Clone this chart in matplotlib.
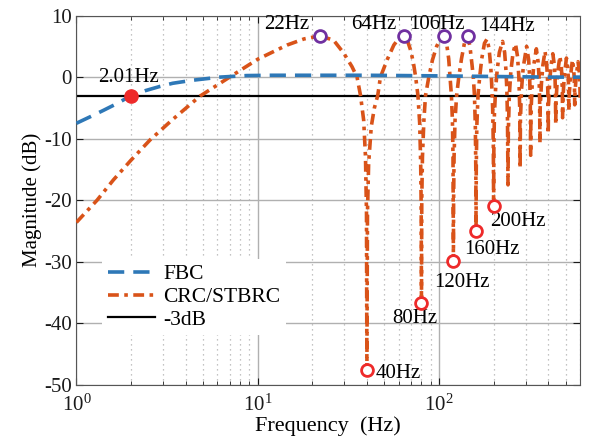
import matplotlib
matplotlib.use('Agg')
from matplotlib import pyplot as plt, ticker

plt.rcParams['font.family'] = ['Liberation Serif', 'DejaVu Serif']
plt.rcParams['mathtext.fontset'] = 'custom'
plt.rcParams['mathtext.rm'] = 'Liberation Serif'
plt.rcParams['axes.unicode_minus'] = False

BLUE = '#2e78b7'
ORANGE = '#d95319'
PURPLE = '#7030a0'
RED = '#ee2a2a'

# FBC response
fbc_f = [1.0, 1.2, 1.41, 1.7, 2.0, 2.4, 2.9, 3.4, 4.4, 6.2, 8.7, 12, 20, 40, 100, 200, 400, 600]
fbc_db = [-7.5, -6.4, -5.4, -4.2, -3.0, -2.2, -1.5, -1.0, -0.5, 0.0, 0.25, 0.3, 0.3, 0.3, 0.2, 0.1, 0.0, 0.0]

# CRC/STBRC response, lobe by lobe
crc_f = [
    1.0, 1.3, 1.6, 2.0, 2.55, 3.36, 4.8, 7.0, 10, 14.5, 18, 22, 26.2, 29.8, 33.1, 35.3, 36.9, 38.4, 39.3, 39.8, 40,
    40.3, 40.9, 42.3, 44, 45.9, 47.5, 51.7, 56.3, 60, 64, 67.5, 70, 72.5, 74.3, 76.5, 78.2, 79.2, 79.7, 80,
    80.3, 81, 82.5, 84.2, 87.8, 92, 97, 102, 106, 110, 113, 115, 117, 118.5, 119.4, 120,
    120.3, 121, 122.5, 125, 128.5, 133, 138, 144, 148, 152, 154.5, 156.8, 158.5, 159.5, 160,
    160.4, 161.5, 164, 167.5, 172, 178, 184, 189, 193, 195, 197.5, 199.2, 200,
    200.5, 202, 205, 209, 215, 224, 230, 234, 236.5, 238.5, 240,
    241, 244, 249, 256, 264, 271, 275.5, 278.5, 280,
    281, 285, 291, 304, 312, 316, 318.5, 320,
    321, 326, 333, 344, 352, 356, 358.5, 360,
    361.2, 367, 374, 384, 392, 396, 398.5, 400,
    401.3, 408, 415, 424, 432, 436, 438.5, 440,
    441.5, 449, 456, 464, 472, 476, 478.5, 480,
    482, 490, 504, 512, 516, 518.5, 520,
    522, 530, 544, 552, 556, 558.5, 560,
    562, 570, 584, 592, 596, 598.5, 600,
]
crc_db = [
    -23.6, -20.0, -16.7, -13.5, -10.2, -7.0, -3.1, 0.0, 2.9, 5.2, 6.2, 6.7, 6.0, 3.9, 1.7, 0.0, -3.0, -7.0, -13, -22, -47.6,
    -22, -14, -8, -5, -3, 0.0, 2.8, 5.2, 6.3, 6.6, 5.6, 4.2, 2.0, 0.0, -3, -7.5, -14, -21, -36.7,
    -20, -13, -7, -3, 0.0, 2.8, 5.0, 6.3, 6.7, 5.5, 3.0, 0.0, -3, -7, -13, -29.9,
    -20, -13, -7, -3, 0.0, 3.0, 5.5, 6.6, 5.0, 2.0, 0.0, -3, -8, -15, -25,
    -15, -8, -3, 0.0, 3.0, 5.5, 6.2, 4.5, 1.5, -1, -5, -11, -21,
    -12, -6, -2, 1.0, 4.0, 5.8, 4.0, 1.0, -2, -7, -17.5,
    -9, -3, 1.0, 4.0, 5.4, 3.3, 0.0, -5, -14.8,
    -7, -2, 1.5, 5.0, 2.8, 0.0, -4, -12.7,
    -6, -1.5, 2.0, 4.6, 2.4, 0.0, -3.5, -10.7,
    -5, -1, 2.0, 4.2, 2.2, 0.0, -3, -9.2,
    -4.5, -0.5, 2.0, 3.8, 2.0, 0.0, -2.8, -7.7,
    -4, -0.3, 1.8, 3.4, 1.8, 0.0, -2.5, -6.6,
    -3.5, 0.0, 3.1, 1.6, 0.0, -2.2, -5.5,
    -3, 0.0, 2.8, 1.4, 0.0, -2, -4.5,
    -2.5, 0.0, 2.5, 1.2, 0.0, -1.8, -3.8,
]

peak_f = [22, 64, 106, 144]
peak_db = [6.7, 6.6, 6.7, 6.6]
peak_txt = ['22Hz', '64Hz', '106Hz', '144Hz']
peak_txt_f = [14.5, 43.6, 97.7, 238]
peak_txt_db = [8.5, 8.5, 8.5, 8.2]

notch_f = [40, 80, 120, 160, 200]
notch_db = [-47.6, -36.7, -29.9, -25.0, -21.0]
notch_txt = ['40Hz', '80Hz', '120Hz', '160Hz', '200Hz']
notch_txt_f = [59.3, 73.2, 134.4, 196.8, 273]
notch_txt_db = [-48.1, -39.2, -33.3, -28.0, -23.5]

cut_f = 2.01
cut_db = -3.0

fig = plt.figure(figsize=(5.92, 4.44), dpi=100)
ax = fig.add_axes([0.129, 0.133, 0.851, 0.832])

l3, = ax.plot([1, 600], [-3, -3], color='black', lw=1.6, label='-3dB', zorder=2)
l2, = ax.plot(crc_f, crc_db, color=ORANGE, lw=2.6, linestyle=(0, (3, 1.5, 1, 1.5)),
              label='CRC/STBRC', zorder=3)
l1, = ax.plot(fbc_f, fbc_db, color=BLUE, lw=2.6, linestyle=(0, (4.5, 2.5)), label='FBC', zorder=4)

ax.plot(peak_f, peak_db, 'o', ms=8.5, mfc='white', mec=PURPLE, mew=2, zorder=5)
ax.plot(notch_f, notch_db, 'o', ms=8.5, mfc='white', mec=RED, mew=2, zorder=5)
ax.plot([cut_f], [cut_db], 'o', ms=9.5, color=RED, zorder=5)

for f, d, t in zip(peak_txt_f, peak_txt_db, peak_txt):
    ax.text(f, d, t, ha='center', va='center', fontsize=15)
for f, d, t in zip(notch_txt_f, notch_txt_db, notch_txt):
    ax.text(f, d, t, ha='center', va='center', fontsize=15)
ax.text(1.93, -1.6, '2.01Hz', ha='center', va='bottom', fontsize=15)

ax.set_xscale('log')
ax.set_xlim(1, 600)
ax.set_ylim(-50, 10)
ax.set_yticks([-50, -40, -30, -20, -10, 0, 10])
ax.xaxis.set_minor_locator(ticker.LogLocator(base=10, subs=range(2, 10)))
ax.xaxis.set_minor_formatter(ticker.NullFormatter())

ax.grid(True, which='major', color='#b0b0b0', lw=1.0, zorder=0)
ax.grid(True, which='minor', axis='x', color='#b0b0b0', lw=0.9, linestyle=(0, (1, 3)), zorder=0)
ax.set_axisbelow(True)
ax.tick_params(which='both', direction='in', top=True, right=True, labelsize=15, colors='#1a1a1a')
ax.tick_params(which='major', length=5)
ax.tick_params(which='minor', length=3)
ax.tick_params(axis='x', which='major', pad=7)
for s in ax.spines.values():
    s.set_color('#555555')

ax.set_xlabel('Frequency  (Hz)', fontsize=16, labelpad=0)
ax.set_ylabel('Magnitude (dB)', fontsize=15, labelpad=1)

leg = ax.legend(handles=[l1, l2, l3], loc='upper left', bbox_to_anchor=(0.03, 0.37),
                fontsize=15.5, frameon=True, fancybox=False, edgecolor='none', framealpha=1,
                handlelength=2.2, handletextpad=0.4, labelspacing=0.12, borderpad=0.25)

fig.savefig('out.png', dpi=100)
